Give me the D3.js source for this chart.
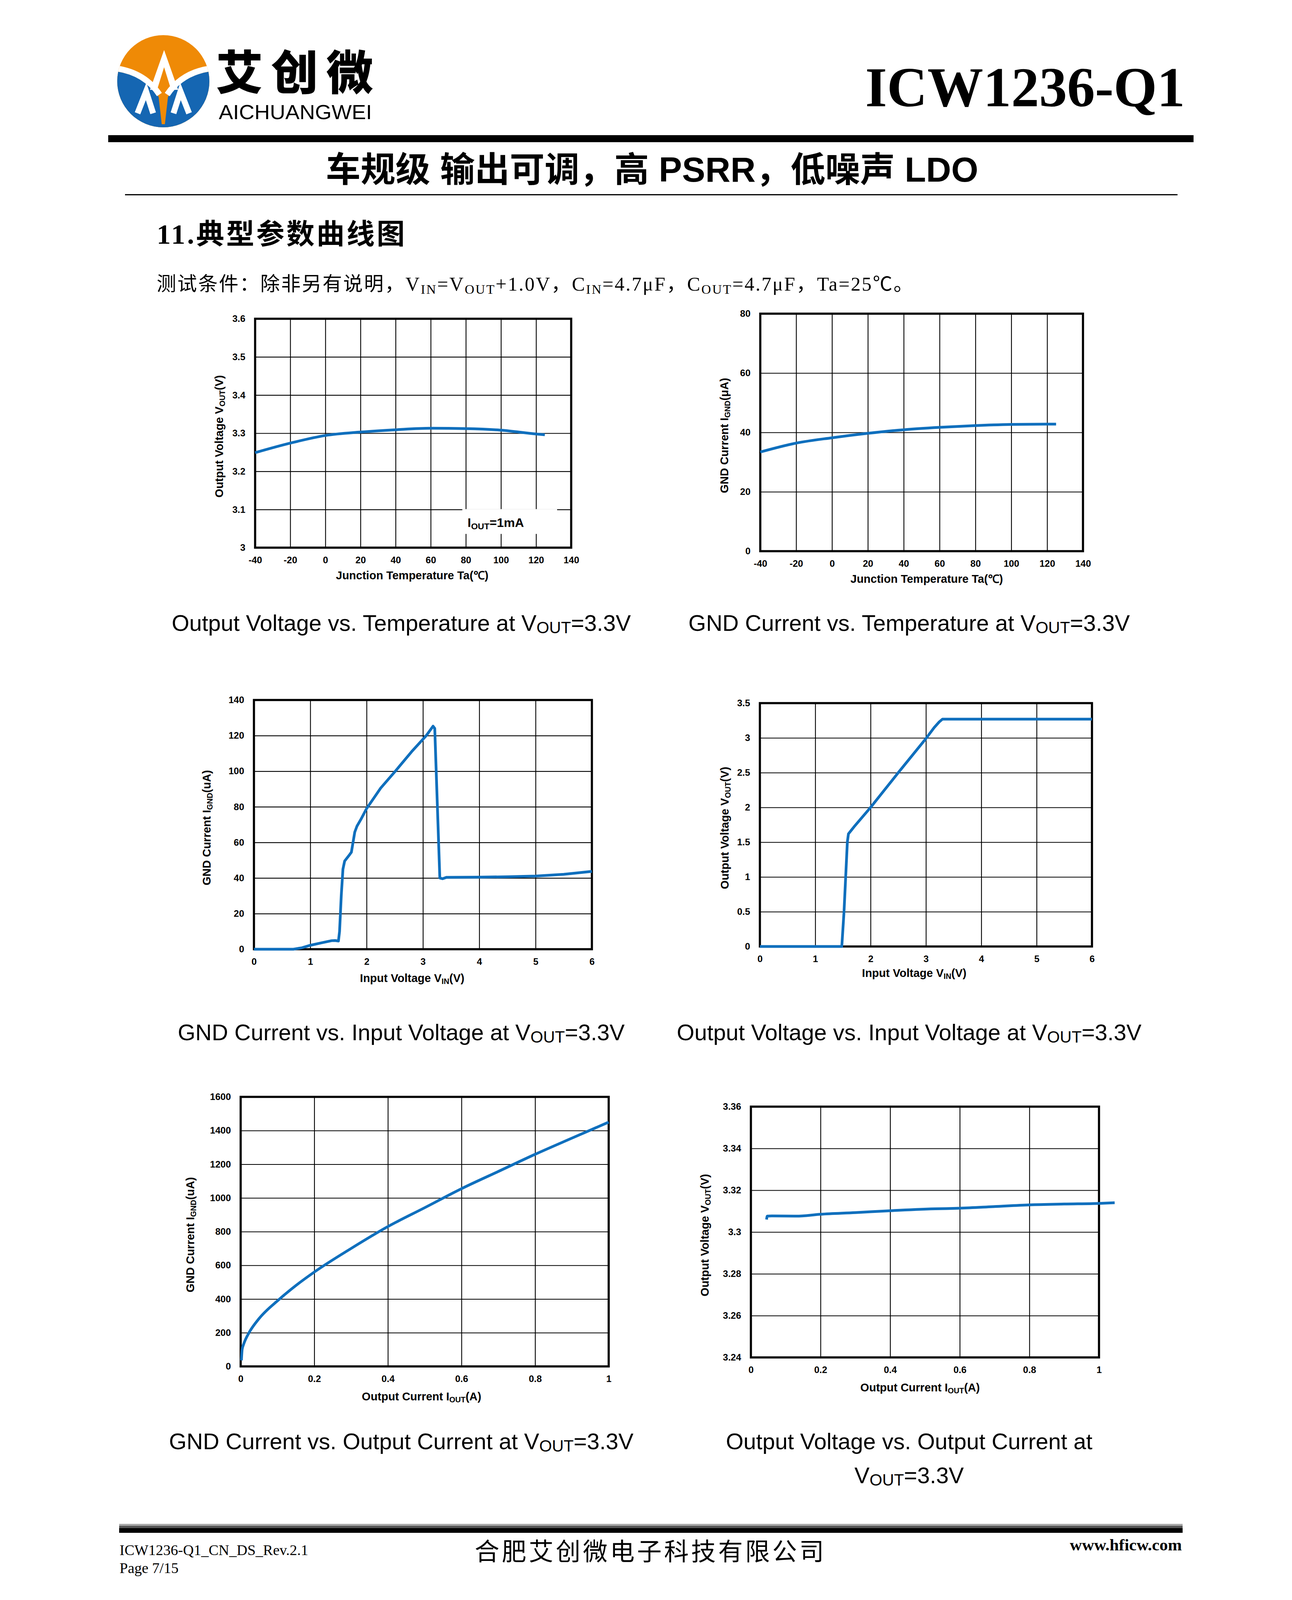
<!DOCTYPE html>
<html>
<head>
<meta charset="utf-8">
<script src="https://cdn.jsdelivr.net/npm/d3@7"></script>
<style>
body{margin:0;background:#fff;}
svg{display:block;}
</style>
</head>
<body>
<svg id="page" width="3307" height="4677"></svg>
<script>
// ---- data ----
var tempX     = [-40,-20,0,20,40,60,80,100,120,125];
var voutTemp  = [3.249,3.274,3.294,3.303,3.309,3.313,3.312,3.308,3.298,3.296];
var ignTemp   = [33.4,36.4,38.2,39.7,40.9,41.7,42.3,42.7,42.8,42.8];

var vinA   = [0,0.7,0.85,1.0,1.2,1.38,1.44,1.5,1.52,1.55,1.58,1.61,1.7,1.73,1.79,1.83,1.9,2.0,2.25,2.51,2.8,3.06,3.18,3.21,3.3,3.35,3.42,4.0,4.5,5.0,5.5,6.0];
var ignVin = [0,0,0.8,2.2,3.6,4.8,4.9,4.6,10,30,45,49.5,53.2,54.5,65.8,69.2,73,79,90.5,100,111,120,125.3,124,40,39.6,40.4,40.5,40.7,41.1,42.1,43.7];

var vinB    = [0,1.48,1.52,1.55,1.58,1.6,1.66,1.7,2.0,2.5,3.0,3.15,3.24,3.3,3.4,6.0];
var voutVin = [0,0,0.5,1.0,1.5,1.62,1.68,1.72,2.0,2.5,2.99,3.15,3.23,3.27,3.27,3.27];

var ioutA   = [0.002,0.004,0.008,0.013,0.024,0.05,0.103,0.15,0.2,0.3,0.4,0.5,0.6,0.7,0.8,0.9,1.0];
var ignIout = [36,100,131,159,205,284,395,480,560,700,830,942,1055,1157,1259,1355,1450];

var ioutB    = [0.045,0.047,0.06,0.13,0.2,0.3,0.4,0.53,0.6,0.7,0.8,0.9,1.0,1.045];
var voutIout = [3.306,3.3076,3.3077,3.3076,3.3085,3.3093,3.3102,3.3111,3.3114,3.3122,3.313,3.3134,3.3137,3.314];

// ---- tick labels ----
var tempTicks     = [-40,-20,0,20,40,60,80,100,120,140];
var vinTicks      = [0,1,2,3,4,5,6];
var ioutTicks     = [0,0.2,0.4,0.6,0.8,1];
var voutTempTicks = [3,3.1,3.2,3.3,3.4,3.5,3.6];
var ignTempTicks  = [0,20,40,60,80];
var ignVinTicks   = [0,20,40,60,80,100,120,140];
var voutVinTicks  = [0,0.5,1,1.5,2,2.5,3,3.5];
var ignIoutTicks  = [0,200,400,600,800,1000,1200,1400,1600];
var voutIoutTicks = [3.24,3.26,3.28,3.3,3.32,3.34,3.36];

// ---- texts ----
var xTitleTemp = [["Junction Temperature Ta(\u2103)",0]];
var xTitleVin  = [["Input Voltage V",0],["IN",1],["(V)",0]];
var xTitleIout = [["Output Current I",0],["OUT",1],["(A)",0]];
var yTitleVout = [["Output Voltage V",0],["OUT",1],["(V)",0]];
var yTitleIgnU = [["GND Current I",0],["GND",1],["(\u03bcA)",0]];
var yTitleIgnA = [["GND Current I",0],["GND",1],["(uA)",0]];
var noteText   = [["I",0],["OUT",1],["=1mA",0]];

var captions = [
  [["Output Voltage vs. Temperature at V",0],["OUT",1],["=3.3V",0]],
  [["GND Current vs. Temperature at V",0],["OUT",1],["=3.3V",0]],
  [["GND Current vs. Input Voltage at V",0],["OUT",1],["=3.3V",0]],
  [["Output Voltage vs. Input Voltage at V",0],["OUT",1],["=3.3V",0]],
  [["GND Current vs. Output Current at V",0],["OUT",1],["=3.3V",0]],
  [["Output Voltage vs. Output Current at",0]]
];
var captionLast2 = [["V",0],["OUT",1],["=3.3V",0]];

var BLUE = "#0f6fbd";
var SANS = "'Liberation Sans', Arial, Helvetica, sans-serif";
var SERIF = "'Liberation Serif', 'Times New Roman', 'Noto Sans CJK SC', serif";
var CJK = "'Liberation Sans', Arial, 'Noto Sans CJK SC', sans-serif";

var svg = d3.select("#page");
svg.append("rect").attr("width",3307).attr("height",4677).attr("fill","#fff");

// text with subscript parts
function rich(text, parts, size, subScale, shiftEm) {
  var prevSub = false;
  var shift = size * shiftEm;
  parts.forEach(function(p) {
    var t = text.append("tspan").text(p[0]);
    if (p[1]) {
      t.attr("font-size", size * subScale).attr("dy", shift);
      prevSub = true;
    } else {
      t.attr("font-size", size);
      if (prevSub) t.attr("dy", -shift);
      prevSub = false;
    }
  });
  return text;
}

// ---- header ----
var logo = svg.append("g").attr("transform","translate(418,208)");
var defs = svg.append("defs");
defs.append("clipPath").attr("id","logoClip")
  .append("ellipse").attr("cx",0).attr("cy",0).attr("rx",118).attr("ry",118);
var lg = logo.append("g").attr("clip-path","url(#logoClip)");
lg.append("rect").attr("x",-130).attr("y",-130).attr("width",260).attr("height",260).attr("fill","#ef8a06");
lg.append("path").attr("d","M-130,-26 Q-55,-20 -12,40 L-4,110 L4,110 L12,40 Q55,-20 130,-26 L130,130 L-130,130 Z")
  .attr("fill","#1566b2");
lg.append("path").attr("d","M-130,-34 Q-50,-26 -10,34").attr("fill","none").attr("stroke","#fff").attr("stroke-width",15);
lg.append("path").attr("d","M130,-34 Q50,-26 10,34").attr("fill","none").attr("stroke","#fff").attr("stroke-width",15);
lg.append("path").attr("d","M2,-80 L-34,22 L-16,22 L2,-36 L20,22 L38,22 Z").attr("fill","#fff");
lg.append("path").attr("d","M-66,82 L-44,26 L-26,82 M26,82 L44,26 L66,82").attr("fill","none")
  .attr("stroke","#fff").attr("stroke-width",15).attr("stroke-linejoin","miter");

svg.append("text").attr("x",553).attr("y",230).attr("font-family","'Noto Sans CJK SC', sans-serif")
  .attr("font-weight",900).attr("font-size",120).attr("textLength",402).attr("lengthAdjust","spacing")
  .text("艾创微");
svg.append("text").attr("x",560).attr("y",305).attr("font-family",SANS)
  .attr("font-size",52).attr("textLength",392).attr("lengthAdjust","spacingAndGlyphs").text("AICHUANGWEI");

svg.append("text").attr("x",3033).attr("y",272).attr("text-anchor","end")
  .attr("font-family",SERIF).attr("font-weight","bold").attr("font-size",143).text("ICW1236-Q1");

svg.append("rect").attr("x",277).attr("y",346).attr("width",2778).attr("height",18).attr("fill","#000");

svg.append("text").attr("x",834).attr("y",465)
  .attr("font-family",CJK).attr("font-weight","bold").attr("font-size",89)
  .attr("textLength",1670).attr("lengthAdjust","spacing")
  .text("车规级 输出可调，高 PSRR，低噪声 LDO");

svg.append("rect").attr("x",320).attr("y",497).attr("width",2694).attr("height",3).attr("fill","#000");

svg.append("text").attr("x",401).attr("y",624).attr("font-family",SERIF)
  .attr("font-weight","bold").attr("font-size",72).attr("textLength",635).attr("lengthAdjust","spacing")
  .text("11.典型参数曲线图");

var cond = svg.append("text").attr("x",401).attr("y",744).attr("font-family",SERIF)
  .attr("textLength",1936).attr("lengthAdjust","spacing");
rich(cond, [["测试条件：除非另有说明，V",0],["IN",1],["=V",0],["OUT",1],["+1.0V，C",0],["IN",1],
  ["=4.7μF，C",0],["OUT",1],["=4.7μF，Ta=25℃。",0]], 50, 0.68, 0.16);

// ---- charts ----
var charts = [
  {left:653, right:1462, top:816, bottom:1402, xd:tempX, yd:voutTemp, xt:tempTicks, yt:voutTempTicks,
   curve:d3.curveMonotoneX, xTitle:xTitleTemp, yTitle:yTitleVout, xtx:1055, xty:1483, ytx:560, note:true},
  {left:1946, right:2772, top:803, bottom:1411, xd:tempX, yd:ignTemp, xt:tempTicks, yt:ignTempTicks,
   curve:d3.curveMonotoneX, xTitle:xTitleTemp, yTitle:yTitleIgnU, xtx:2372, xty:1492, ytx:1853},
  {left:650, right:1515, top:1792, bottom:2430, xd:vinA, yd:ignVin, xt:vinTicks, yt:ignVinTicks,
   curve:d3.curveLinear, xTitle:xTitleVin, yTitle:yTitleIgnA, xtx:1055, xty:2514, ytx:528},
  {left:1945, right:2795, top:1800, bottom:2423, xd:vinB, yd:voutVin, xt:vinTicks, yt:voutVinTicks,
   curve:d3.curveLinear, xTitle:xTitleVin, yTitle:yTitleVout, xtx:2340, xty:2501, ytx:1854},
  {left:616, right:1558, top:2808, bottom:3498, xd:ioutA, yd:ignIout, xt:ioutTicks, yt:ignIoutTicks,
   curve:d3.curveMonotoneX, xTitle:xTitleIout, yTitle:yTitleIgnA, xtx:1079, xty:3585, ytx:486},
  {left:1922, right:2813, top:2833, bottom:3475, xd:ioutB, yd:voutIout, xt:ioutTicks, yt:voutIoutTicks,
   curve:d3.curveMonotoneX, xTitle:xTitleIout, yTitle:yTitleVout, xtx:2355, xty:3562, ytx:1803}
];

function drawChart(c) {
  var g = svg.append("g");
  var w = c.right - c.left, h = c.bottom - c.top;
  var x = d3.scaleLinear().domain(d3.extent(c.xt)).range([c.left, c.right]);
  var y = d3.scaleLinear().domain(d3.extent(c.yt)).range([c.bottom, c.top]);

  var gx = g.append("g").attr("transform","translate(0," + c.bottom + ")")
    .call(d3.axisBottom(x).tickValues(c.xt).tickSize(-h).tickPadding(23).tickFormat(String));
  var gy = g.append("g").attr("transform","translate(" + c.left + ",0)")
    .call(d3.axisLeft(y).tickValues(c.yt).tickSize(-w).tickPadding(25).tickFormat(String));
  [gx, gy].forEach(function(a) {
    a.select(".domain").remove();
    a.selectAll("line").attr("stroke","#000").attr("stroke-width",2.2);
    a.selectAll("text").attr("font-family",SANS).attr("font-weight","bold")
      .attr("font-size",24).attr("fill","#000");
  });

  if (c.note) {
    // white label box over the grid, as in the source plot
    g.append("rect").attr("x",x(78)).attr("y",y(3.1) - 1).attr("width",x(132) - x(78))
      .attr("height",y(3.035) - y(3.1)).attr("fill","#fff");
    var nt = g.append("text").attr("x",x(81)).attr("y",y(3.054)).attr("font-family",SANS)
      .attr("font-weight","bold");
    rich(nt, noteText, 32, 0.7, 0.18);
  }

  g.append("rect").attr("x",c.left).attr("y",c.top).attr("width",w).attr("height",h)
    .attr("fill","none").attr("stroke","#000").attr("stroke-width",5.5);

  var pts = c.xd.map(function(v, i) { return [v, c.yd[i]]; });
  g.append("path").datum(pts)
    .attr("d", d3.line().x(function(d){return x(d[0]);}).y(function(d){return y(d[1]);}).curve(c.curve))
    .attr("fill","none").attr("stroke",BLUE).attr("stroke-width",7)
    .attr("stroke-linejoin","round").attr("stroke-linecap","butt");

  var xt = g.append("text").attr("x",c.xtx).attr("y",c.xty).attr("text-anchor","middle")
    .attr("font-family",SANS).attr("font-weight","bold");
  rich(xt, c.xTitle, 29, 0.68, 0.16);

  var yc = (c.top + c.bottom) / 2 + 8;
  var yt = g.append("text").attr("transform","translate(" + (c.ytx + 11) + "," + yc + ") rotate(-90)")
    .attr("text-anchor","middle").attr("font-family",SANS).attr("font-weight","bold");
  rich(yt, c.yTitle, 29, 0.68, 0.16);
}
charts.forEach(drawChart);

// ---- captions ----
var colCenter = [1027, 2327];
var rowBase = [1615, 2663, 3710];
captions.forEach(function(parts, i) {
  var t = svg.append("text").attr("x",colCenter[i % 2]).attr("y",rowBase[Math.floor(i / 2)])
    .attr("text-anchor","middle").attr("font-family",SANS);
  rich(t, parts, 58, 0.72, 0.1);
});
var last = svg.append("text").attr("x",colCenter[1]).attr("y",3797)
  .attr("text-anchor","middle").attr("font-family",SANS);
rich(last, captionLast2, 58, 0.72, 0.1);

// ---- footer ----
// the visible window can be shorter than the page; lift the footer so it stays in view
var vh = window.innerHeight || 4677;
var footTop = Math.min(4363, vh - 195);
var fg = svg.append("g").attr("transform","translate(0," + (footTop - 4363) + ")");
fg.append("rect").attr("x",305).attr("y",4363).attr("width",2722).attr("height",5).attr("fill","#aaa");
fg.append("rect").attr("x",305).attr("y",4368).attr("width",2722).attr("height",6).attr("fill","#555");
fg.append("rect").attr("x",305).attr("y",4374).attr("width",2722).attr("height",12).attr("fill","#000");

fg.append("text").attr("x",306).attr("y",4443).attr("font-family",SERIF).attr("font-size",38)
  .text("ICW1236-Q1_CN_DS_Rev.2.1");
fg.append("text").attr("x",306).attr("y",4489).attr("font-family",SERIF).attr("font-size",38)
  .text("Page 7/15");
fg.append("text").attr("x",1215).attr("y",4456)
  .attr("font-family","'Noto Sans CJK SC', sans-serif").attr("font-size",63)
  .attr("textLength",894).attr("lengthAdjust","spacing")
  .text("合肥艾创微电子科技有限公司");
fg.append("text").attr("x",3025).attr("y",4431).attr("text-anchor","end").attr("font-family",SERIF)
  .attr("font-weight","bold").attr("font-size",43).text("www.hficw.com");
</script>
</body>
</html>
